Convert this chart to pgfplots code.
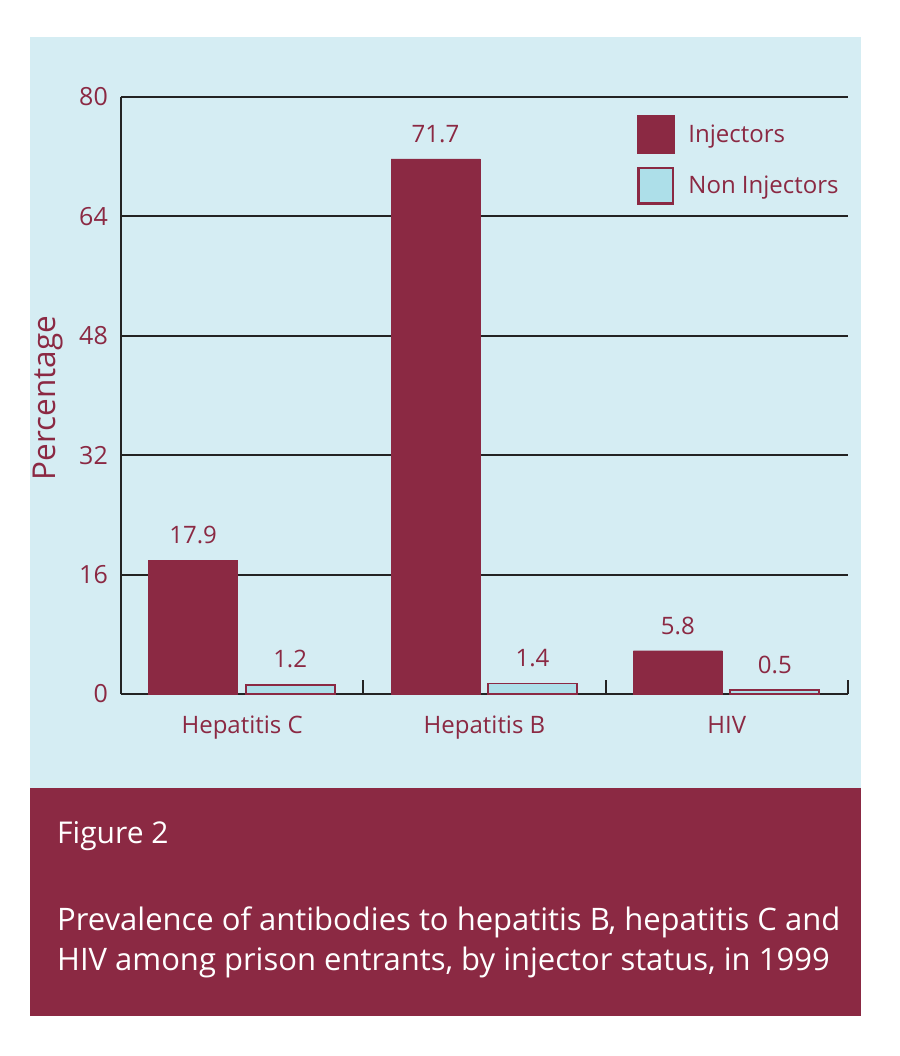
\documentclass[border=0pt]{standalone}
\usepackage{pgfplots}
\pgfplotsset{compat=1.18}
\usepackage{fontspec}
\setmainfont{Open Sans}
\definecolor{maroon}{RGB}{139,41,67}
\definecolor{panel}{RGB}{213,237,243}
\definecolor{barblue}{RGB}{173,223,233}
\definecolor{gridc}{RGB}{35,35,35}
\begin{document}
\begin{tikzpicture}
% origin = bottom-left corner of the axis box (image px 121,694); 1px = 1pt
\path[use as bounding box, fill=white] (-121pt,-362pt) rectangle (778pt,694pt);
\fill[panel] (-91pt,-94pt) rectangle (740pt,657pt);
\fill[maroon] (-91pt,-322pt) rectangle (740pt,-94pt);
\node[anchor=base west, text=white, inner sep=0pt, font=\fontsize{30}{34}\selectfont] at (-64pt,-149pt) {Figure 2};
\node[anchor=base west, text=white, inner sep=0pt, font=\fontsize{31}{34}\selectfont] at (-64pt,-236pt) {Prevalence of antibodies to hepatitis B, hepatitis C and};
\node[anchor=base west, text=white, inner sep=0pt, font=\fontsize{31}{34}\selectfont] at (-64pt,-276pt) {HIV among prison entrants, by injector status, in 1999};
\begin{axis}[
  at={(0pt,0pt)}, anchor=south west,
  scale only axis, width=727pt, height=597pt,
  xmin=0, xmax=3, ymin=0, ymax=80,
  ybar, bar width=89pt,
  axis x line*=bottom, axis y line*=left,
  axis line style={-, gridc, line width=1.9pt},
  ytick={0,16,32,48,64,80},
  ymajorgrids, major grid style={gridc, line width=1.9pt},
  ytick style={draw=none},
  xtick={0,1,2,3}, xticklabels={},
  tick align=inside, major tick length=14pt,
  xtick style={gridc, line width=1.9pt},
  extra x ticks={0.5,1.5,2.5},
  extra x tick labels={Hepatitis C, Hepatitis B, HIV},
  extra x tick style={major tick length=0pt, xticklabel style={anchor=north, inner sep=0pt, yshift=-22pt}},
  /pgf/number format/assume math mode=true,
  yticklabel style={anchor=east, inner sep=0pt, xshift=-13pt, text=maroon, font=\fontsize{25}{25}\selectfont},
  xticklabel style={text=maroon, font=\fontsize{24}{24}\selectfont},
  ylabel={Percentage},
  ylabel style={at={(axis description cs:-0.1004,0.496)}, anchor=center, text=maroon, font=\fontsize{31.5}{31.5}\selectfont},
  nodes near coords,
  every node near coord/.append style={text=maroon, anchor=south, inner sep=0pt, yshift=16pt, font=\fontsize{24}{24}\selectfont},
  legend style={at={(rel axis cs:0.7098,0.97)}, anchor=north west, draw=none, fill=none,
    text=maroon, font=\fontsize{24}{24}\selectfont, row sep=13pt, inner sep=0pt,
    nodes={inner sep=0pt}},
  legend cell align=left,
  clip=false,
]
\addplot[fill=maroon, draw=maroon, bar shift=-49pt,
  legend image code/.code={\draw[fill=maroon, draw=maroon] (0pt,-19pt) rectangle (37pt,19pt); \path[draw=none,fill=none] (37pt,0) -- (51pt,0);}]
  coordinates {(0.5,17.9) (1.5,71.7) (2.5,5.8)};
\addplot[fill=barblue, draw=maroon, line width=1.8pt, bar shift=48pt,
  legend image code/.code={\draw[fill=barblue, draw=maroon, line width=2.6pt] (1.3pt,-17.7pt) rectangle (35.7pt,17.7pt); \path[draw=none,fill=none] (37pt,0) -- (51pt,0);}]
  coordinates {(0.5,1.2) (1.5,1.4) (2.5,0.5)};
\legend{Injectors, Non Injectors}
\end{axis}
\end{tikzpicture}
\end{document}
